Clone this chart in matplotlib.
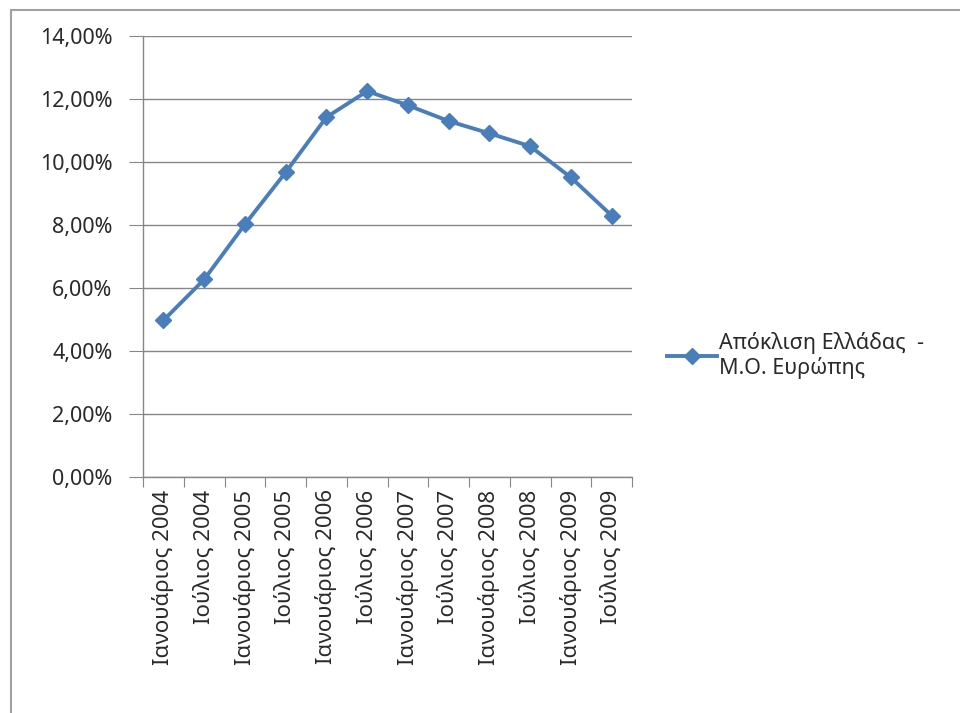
import matplotlib
matplotlib.use("Agg")
import matplotlib.pyplot as plt
from matplotlib.patches import Rectangle
from matplotlib.ticker import FuncFormatter
import numpy as np

plt.rcParams['font.family'] = ['Noto Sans', 'DejaVu Sans']

# δεδομένα
periods = ['Ιανουάριος 2004', 'Ιούλιος 2004', 'Ιανουάριος 2005', 'Ιούλιος 2005',
           'Ιανουάριος 2006', 'Ιούλιος 2006', 'Ιανουάριος 2007', 'Ιούλιος 2007',
           'Ιανουάριος 2008', 'Ιούλιος 2008', 'Ιανουάριος 2009', 'Ιούλιος 2009']
deviation = [0.0497, 0.0627, 0.0802, 0.0967, 0.1142, 0.1225,
             0.1180, 0.1130, 0.1091, 0.1050, 0.0951, 0.0830]
series_name = 'Απόκλιση Ελλάδας  -\nΜ.Ο. Ευρώπης'

W, H = 960, 713
fig = plt.figure(figsize=(W / 100, H / 100), dpi=100)

# πλαίσιο γραφήματος
fig.add_artist(Rectangle((10.5 / W, -0.05), 1.1, 1 - 10 / H + 0.05,
                         transform=fig.transFigure, fill=False,
                         edgecolor='#a0a0a0', linewidth=1.5))

ax = fig.add_axes([143 / W, 1 - 477 / H, (632 - 143) / W, (477 - 36) / H])

x = np.arange(len(periods))
ax.plot(x, deviation, color='#4a7ebb', linewidth=2.8, marker='D',
        markersize=8.5, markerfacecolor='#4a7ebb', markeredgecolor='#4a7ebb',
        label=series_name, zorder=3)

ax.set_xlim(-0.5, len(periods) - 0.5)
ax.set_ylim(0, 0.14)
ax.set_yticks(np.arange(0, 0.141, 0.02))
ax.yaxis.set_major_formatter(FuncFormatter(lambda v, p: f'{v * 100:.2f}%'.replace('.', ',')))
ax.grid(axis='y', color='#868686', linewidth=1.0)
ax.set_axisbelow(True)

# σημάδια στα όρια κατηγοριών, ετικέτες στο κέντρο
ax.set_xticks(np.arange(-0.5, len(periods)), minor=False)
ax.set_xticklabels([])
ax.set_xticks(x, minor=True)
ax.set_xticklabels(periods, minor=True, rotation=90, fontsize=16, color='#2a2a2a')
ax.tick_params(axis='x', which='major', direction='out', length=7, color='#868686')
ax.tick_params(axis='x', which='minor', length=0, pad=9)
ax.tick_params(axis='y', direction='out', length=10, color='#868686',
               labelsize=15.5, labelcolor='#2a2a2a', pad=12)

for s in ['top', 'right']:
    ax.spines[s].set_visible(False)
for s in ['left', 'bottom']:
    ax.spines[s].set_color('#868686')
    ax.spines[s].set_linewidth(1.0)

ax.legend(loc='center left', bbox_to_anchor=(1.05, 0.275), frameon=False,
          fontsize=15.5, handlelength=2.3, handletextpad=0.1, labelspacing=0.2,
          labelcolor='#2a2a2a', borderpad=0)

fig.savefig('out.png', dpi=100)
